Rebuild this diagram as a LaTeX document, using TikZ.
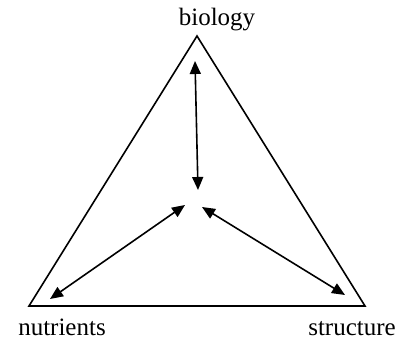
\documentclass[tikz,border=0pt]{standalone}
\usepackage{fontspec}
\setmainfont{Liberation Serif}
\usetikzlibrary{arrows.meta}
\begin{document}
\begin{tikzpicture}[x=1pt,y=1pt,
  edge/.style={line width=1.6pt,line join=miter},
  link/.style={line width=1.6pt,{Triangle[length=13pt,width=11pt]}-{Triangle[length=13pt,width=11pt]}},
  lbl/.style={font=\fontsize{25}{28}\selectfont,inner sep=0pt}]
\useasboundingbox (0,0) rectangle (406,340);
\coordinate (T) at (197,304);
\coordinate (L) at (29,34);
\coordinate (R) at (365,34);
\draw[edge] (T) -- (L) -- (R) -- cycle;
\node[lbl] (bio) at (217,320) {biology};
\node[lbl] (nut) at (62,13) {nutrients};
\node[lbl] (str) at (352,11.5) {structure};
\coordinate (a1) at (195,279);
\coordinate (a2) at (198,150);
\coordinate (b1) at (185,135);
\coordinate (b2) at (50,41);
\coordinate (c1) at (202,133);
\coordinate (c2) at (345,45);
\draw[link] (a1) -- (a2);
\draw[link] (b1) -- (b2);
\draw[link] (c1) -- (c2);
\end{tikzpicture}
\end{document}
